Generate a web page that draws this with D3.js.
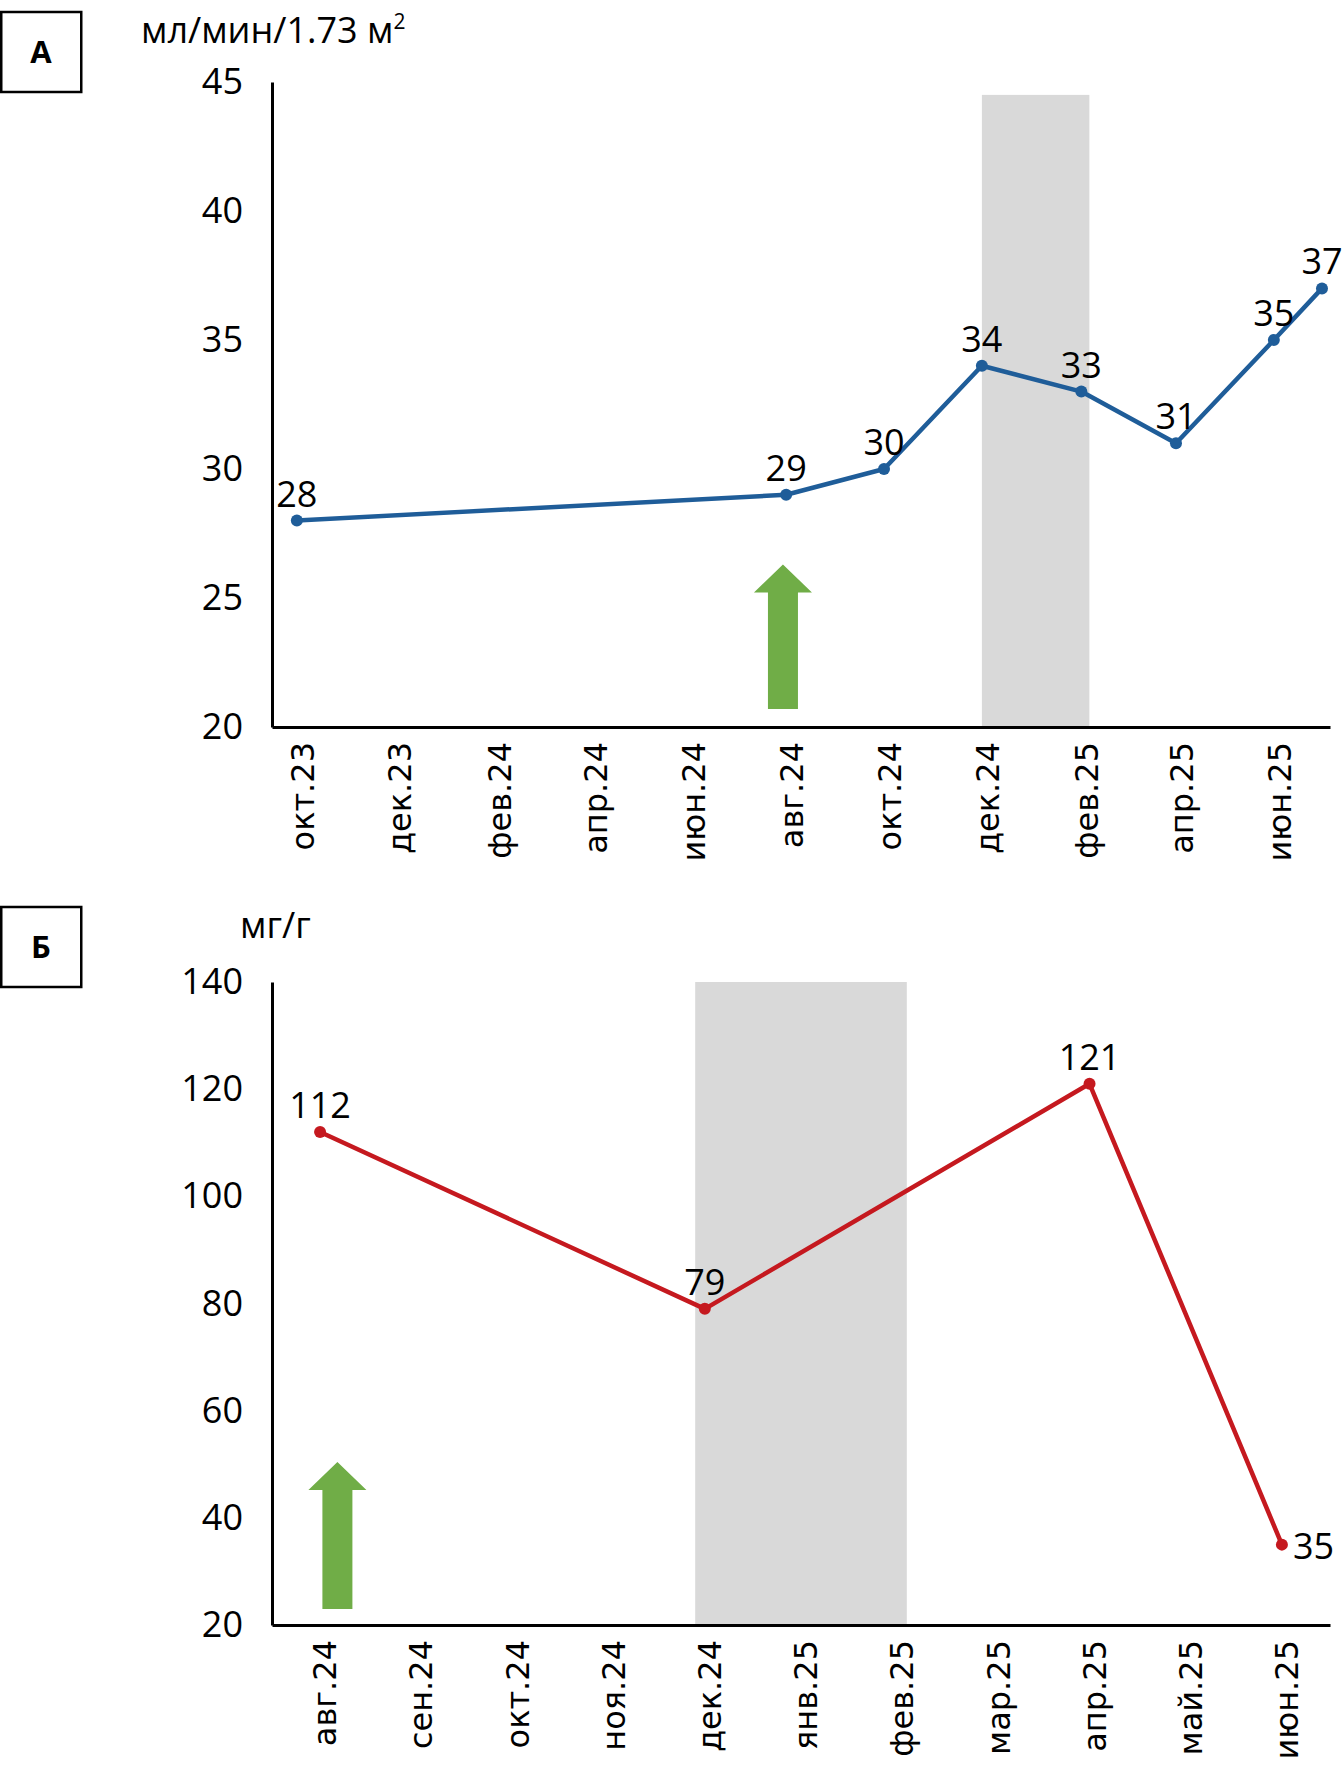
<!DOCTYPE html>
<html>
<head>
<meta charset="utf-8">
<script src="https://cdn.jsdelivr.net/npm/d3@7"></script>
<style>
  body { margin: 0; background: #fff; }
  svg { display: block; }
</style>
</head>
<body>
<div id="chart"></div>
<script>
/* Panel A: eGFR, ml/min/1.73 m2 */
var gfrDates = ["2023-10-01", "2024-08-01", "2024-10-01", "2024-12-01", "2025-02-01", "2025-04-01", "2025-06-01", "2025-07-01"];
var gfrValues = [28, 29, 30, 34, 33, 31, 35, 37];
var gfrTickLabels = ["окт.23", "дек.23", "фев.24", "апр.24", "июн.24", "авг.24", "окт.24", "дек.24", "фев.25", "апр.25", "июн.25"];
var gfrYTicks = [20, 25, 30, 35, 40, 45];
var gfrShade = ["2024-12-01", "2025-02-06"];   // grey period
var gfrShadeTop = 44.5;
var gfrArrow = { date: "2024-07-30", from: 20.7, to: 26.3 };

/* Panel B: albumin/creatinine, mg/g */
var acrCategories = ["авг.24", "сен.24", "окт.24", "ноя.24", "дек.24", "янв.25", "фев.25", "мар.25", "апр.25", "май.25", "июн.25"];
var acrPointCats = ["авг.24", "дек.24", "апр.25", "июн.25"];
var acrValues = [112, 79, 121, 35];
var acrYTicks = [20, 40, 60, 80, 100, 120, 140];
var acrShade = [3.9, 6.1];   // category index units
var acrArrow = { pos: 0.18, from: 23.0, to: 50.4 };

var monthNames = ["янв", "фев", "мар", "апр", "май", "июн", "июл", "авг", "сен", "окт", "ноя", "дек"];

var W = 1344, H = 1775;
var numFont = "'Open Sans', 'Noto Sans', sans-serif";
var catFont = "'DejaVu Sans', sans-serif";
var blue = "#1f5d99", red = "#c5191f", green = "#70ad47", grey = "#d9d9d9";

var parse = d3.timeParse("%Y-%m-%d");
function labelDate(s) {
  var p = s.split(".");
  return new Date(2000 + (+p[1]), monthNames.indexOf(p[0]), 1);
}

var svg = d3.select("#chart").append("svg")
    .attr("width", W)
    .attr("height", H);

/* upward arrow shape */
function arrowPath(cx, yTip, yBottom) {
  var hw = 29, sw = 15, hh = 28;
  return "M" + cx + "," + yTip +
    "L" + (cx + hw) + "," + (yTip + hh) +
    "L" + (cx + sw) + "," + (yTip + hh) +
    "L" + (cx + sw) + "," + yBottom +
    "L" + (cx - sw) + "," + yBottom +
    "L" + (cx - sw) + "," + (yTip + hh) +
    "L" + (cx - hw) + "," + (yTip + hh) + "Z";
}

function panelBox(y, letter) {
  svg.append("rect")
    .attr("x", 1.25).attr("y", y)
    .attr("width", 80).attr("height", 80)
    .attr("fill", "none").attr("stroke", "#000").attr("stroke-width", 2.5);
  svg.append("text")
    .attr("x", 41).attr("y", y + 40)
    .attr("dy", "0.36em")
    .attr("text-anchor", "middle")
    .style("font", "bold 31px " + numFont)
    .text(letter);
}

function styleAxes(g, xAxisG) {
  g.selectAll(".domain").attr("stroke", "#000").attr("stroke-width", 3);
  g.selectAll("text").style("font-family", numFont).style("font-size", "36px").attr("fill", "#000");
  xAxisG.selectAll("text")
    .style("font-family", catFont).style("font-size", "32px")
    .attr("transform", "rotate(-90)")
    .attr("text-anchor", "end")
    .attr("x", -15).attr("y", 5).attr("dy", "0.35em");
}

/* ---------- Panel A ---------- */
var xA = d3.scaleTime()
    .domain([new Date(2023, 8, 15, 12), new Date(2025, 6, 6)])
    .range([272, 1330]);
var yA = d3.scaleLinear().domain([20, 45]).range([727, 82]);

var gA = svg.append("g");

gA.append("rect")
  .attr("x", xA(parse(gfrShade[0])))
  .attr("width", xA(parse(gfrShade[1])) - xA(parse(gfrShade[0])))
  .attr("y", yA(gfrShadeTop))
  .attr("height", yA(20) - yA(gfrShadeTop))
  .attr("fill", grey);

gA.append("path")
  .attr("d", arrowPath(xA(parse(gfrArrow.date)), yA(gfrArrow.to), yA(gfrArrow.from)))
  .attr("fill", green);

gA.append("g")
  .attr("transform", "translate(" + xA.range()[0] + ",0)")
  .call(d3.axisLeft(yA).tickValues(gfrYTicks).tickSize(0).tickPadding(29).tickSizeOuter(0));

var xAxisA = gA.append("g")
  .attr("transform", "translate(0," + yA(20) + ")")
  .call(d3.axisBottom(xA)
    .tickValues(gfrTickLabels.map(labelDate))
    .tickFormat(function (d, i) { return gfrTickLabels[i]; })
    .tickSize(0).tickSizeOuter(0));

styleAxes(gA, xAxisA);

var gfrData = gfrDates.map(function (d, i) { return { x: parse(d), v: gfrValues[i] }; });

gA.append("path")
  .datum(gfrData)
  .attr("fill", "none")
  .attr("stroke", blue)
  .attr("stroke-width", 4.5)
  .attr("stroke-linejoin", "round")
  .attr("d", d3.line().x(function (d) { return xA(d.x); }).y(function (d) { return yA(d.v); }));

gA.selectAll("circle.pt").data(gfrData).enter().append("circle")
  .attr("class", "pt")
  .attr("cx", function (d) { return xA(d.x); })
  .attr("cy", function (d) { return yA(d.v); })
  .attr("r", 6)
  .attr("fill", blue);

gA.selectAll("text.lbl").data(gfrData).enter().append("text")
  .attr("class", "lbl")
  .attr("x", function (d) { return xA(d.x); })
  .attr("y", function (d) { return yA(d.v) - 14; })
  .attr("text-anchor", "middle")
  .style("font", "36px " + numFont)
  .text(function (d) { return d.v; });

/* unit + panel letter */
var unitA = svg.append("text")
  .attr("x", 141).attr("y", 43)
  .style("font", "36px " + numFont);
unitA.append("tspan").text("мл/мин/1.73 м");
unitA.append("tspan").attr("dy", -14).style("font-size", "21px").text("2");
panelBox(12, "А");

/* ---------- Panel B ---------- */
var xB = d3.scaleBand().domain(acrCategories).range([272, 1330]);
var xBi = d3.scaleLinear().domain([-0.5, acrCategories.length - 0.5]).range(xB.range());
var yB = d3.scaleLinear().domain([20, 140]).range([1625, 982]);

var gB = svg.append("g");

gB.append("rect")
  .attr("x", xBi(acrShade[0]))
  .attr("width", xBi(acrShade[1]) - xBi(acrShade[0]))
  .attr("y", yB(140))
  .attr("height", yB(20) - yB(140))
  .attr("fill", grey);

gB.append("path")
  .attr("d", arrowPath(xBi(acrArrow.pos), yB(acrArrow.to), yB(acrArrow.from)))
  .attr("fill", green);

gB.append("g")
  .attr("transform", "translate(" + xB.range()[0] + ",0)")
  .call(d3.axisLeft(yB).tickValues(acrYTicks).tickSize(0).tickPadding(29).tickSizeOuter(0));

var xAxisB = gB.append("g")
  .attr("transform", "translate(0," + yB(20) + ")")
  .call(d3.axisBottom(xB).tickSize(0).tickSizeOuter(0));

styleAxes(gB, xAxisB);

var acrData = acrPointCats.map(function (c, i) {
  return { x: xB(c) + xB.bandwidth() / 2, v: acrValues[i], last: i === acrPointCats.length - 1 };
});

gB.append("path")
  .datum(acrData)
  .attr("fill", "none")
  .attr("stroke", red)
  .attr("stroke-width", 4.5)
  .attr("stroke-linejoin", "round")
  .attr("d", d3.line().x(function (d) { return d.x; }).y(function (d) { return yB(d.v); }));

gB.selectAll("circle.pt").data(acrData).enter().append("circle")
  .attr("class", "pt")
  .attr("cx", function (d) { return d.x; })
  .attr("cy", function (d) { return yB(d.v); })
  .attr("r", 6)
  .attr("fill", red);

// last label sits to the right of its point
gB.selectAll("text.lbl").data(acrData).enter().append("text")
  .attr("class", "lbl")
  .attr("x", function (d) { return d.last ? d.x + 11 : d.x; })
  .attr("y", function (d) { return d.last ? yB(d.v) : yB(d.v) - 14; })
  .attr("dy", function (d) { return d.last ? "0.4em" : null; })
  .attr("text-anchor", function (d) { return d.last ? "start" : "middle"; })
  .style("font", "36px " + numFont)
  .text(function (d) { return d.v; });

svg.append("text")
  .attr("x", 240).attr("y", 938)
  .style("font", "36px " + numFont)
  .text("мг/г");
panelBox(907, "Б");
</script>
</body>
</html>
